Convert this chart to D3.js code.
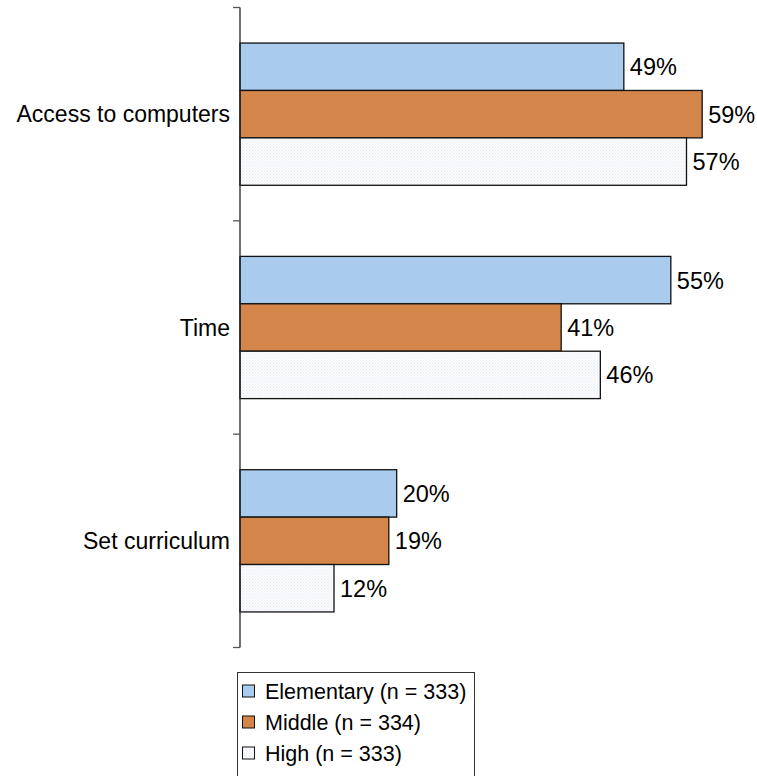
<!DOCTYPE html>
<html>
<head>
<meta charset="utf-8">
<script src="https://cdn.jsdelivr.net/npm/d3@7"></script>
<style>
  html, body { margin: 0; padding: 0; background: #fff; }
  svg { display: block; font-family: "Liberation Sans", Arial, sans-serif; }
</style>
</head>
<body>
<svg id="chart" width="757" height="776"></svg>
<script>
const categories = ["Access to computers", "Time", "Set curriculum"];
const seriesNames = ["Elementary (n = 333)", "Middle (n = 334)", "High (n = 333)"];
const elementary = [0.49, 0.55, 0.20];
const middle = [0.59, 0.41, 0.19];
const high = [0.57, 0.46, 0.12];
const seriesValues = [elementary, middle, high];
const seriesColors = ["#A9CBEE", "#D4864A", "url(#dots)"];

const svg = d3.select("#chart");
const defs = svg.append("defs");
const pat = defs.append("pattern").attr("id", "dots")
  .attr("width", 3).attr("height", 3).attr("patternUnits", "userSpaceOnUse");
pat.append("rect").attr("width", 3).attr("height", 3).attr("fill", "#FBFCFE");
pat.append("rect").attr("width", 1).attr("height", 1).attr("fill", "#E3E9F2");
pat.append("rect").attr("x", 1.5).attr("y", 1.5).attr("width", 1).attr("height", 1).attr("fill", "#E3E9F2");

const axisX = 240;
const y = d3.scaleBand().domain(categories).range([7.5, 647.5]).paddingInner(0).paddingOuter(0);
const x = d3.scaleLinear().domain([0, 0.6]).range([axisX, axisX + 470]);
const groupH = y.bandwidth() / 1.5;
const inner = d3.scaleBand().domain(d3.range(seriesNames.length))
  .range([0, groupH]).padding(0);

const rows = [];
categories.forEach((c, i) => {
  seriesValues.forEach((vals, s) => rows.push({ cat: c, s, v: vals[i] }));
});

svg.append("g").selectAll("rect").data(rows).join("rect")
  .attr("x", axisX)
  .attr("y", d => y(d.cat) + (y.bandwidth() - groupH) / 2 + inner(d.s))
  .attr("width", d => x(d.v) - axisX)
  .attr("height", inner.bandwidth())
  .attr("fill", d => seriesColors[d.s])
  .attr("stroke", "#111")
  .attr("stroke-width", 1.3);

svg.append("g").selectAll("text").data(rows).join("text")
  .attr("x", d => x(d.v) + 6)
  .attr("y", d => y(d.cat) + (y.bandwidth() - groupH) / 2 + inner(d.s) + inner.bandwidth() / 2)
  .attr("dy", "0.36em")
  .attr("font-size", 23.5)
  .attr("fill", "#000")
  .text(d => Math.round(d.v * 100) + "%");

// axis
const ag = svg.append("g").attr("transform", `translate(${axisX},0)`);
ag.append("line").attr("x1", 0).attr("x2", 0).attr("y1", 7.5).attr("y2", 647.5)
  .attr("stroke", "#222").attr("stroke-width", 1.3);
const tickPos = [7.5, ...categories.map(c => y(c) + y.bandwidth())];
ag.selectAll("line.tick").data(tickPos).join("line").attr("class", "tick")
  .attr("x1", -7).attr("x2", 0).attr("y1", d => d).attr("y2", d => d)
  .attr("stroke", "#555").attr("stroke-width", 1.3);

svg.append("g").selectAll("text").data(categories).join("text")
  .attr("x", axisX - 10)
  .attr("y", d => y(d) + y.bandwidth() / 2)
  .attr("dy", "0.36em")
  .attr("text-anchor", "end")
  .attr("font-size", 23)
  .text(d => d);

// legend
const lg = svg.append("g");
lg.append("rect").attr("x", 237.5).attr("y", 672.5).attr("width", 237).attr("height", 110)
  .attr("fill", "#fff").attr("stroke", "#333").attr("stroke-width", 1);
seriesNames.forEach((name, i) => {
  const cy = 691 + i * 31;
  lg.append("rect").attr("x", 242.5).attr("y", cy - 6).attr("width", 12).attr("height", 12)
    .attr("fill", seriesColors[i]).attr("stroke", "#111").attr("stroke-width", 1);
  lg.append("text").attr("x", 265).attr("y", cy).attr("dy", "0.36em")
    .attr("font-size", 21.5).text(name);
});
</script>
</body>
</html>
